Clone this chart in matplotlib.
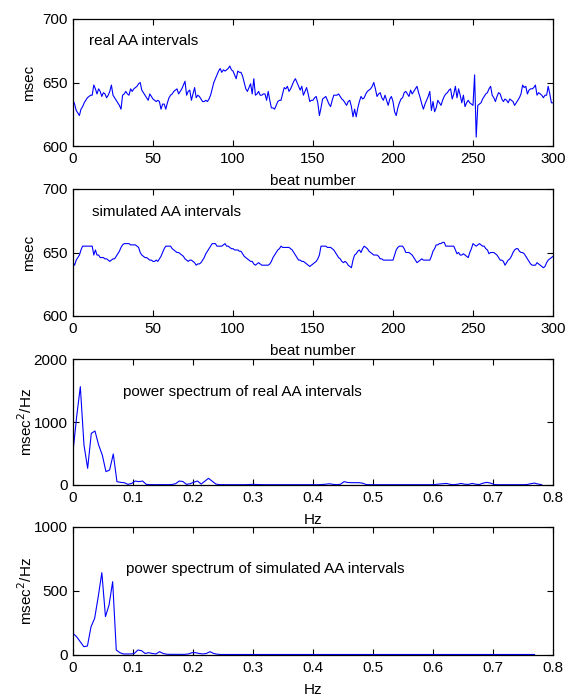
import numpy as np
import matplotlib
matplotlib.use("Agg")
import matplotlib.pyplot as plt

plt.rcParams['font.family'] = ['Liberation Sans', 'DejaVu Sans']
plt.rcParams['font.size'] = 11

# real AA intervals, beats 0..300 (msec)
real_aa = [
    636, 633, 628, 626, 624, 629, 631, 634, 636, 638,
    639, 640, 640, 648, 645, 641, 645, 643, 639, 642,
    641, 638, 640, 643, 648, 640, 638, 636, 634, 632,
    629, 640, 641, 643, 641, 640, 645, 643, 645, 646,
    647, 649, 650, 644, 642, 640, 638, 636, 641, 639,
    637, 636, 635, 636, 635, 629, 633, 633, 629, 634,
    638, 640, 641, 643, 644, 645, 641, 643, 645, 648,
    651, 640, 643, 644, 636, 641, 646, 638, 640, 639,
    637, 635, 635, 636, 635, 637, 640, 645, 650, 653,
    656, 659, 661, 658, 660, 659, 660, 661, 663, 660,
    659, 656, 653, 659, 658, 658, 655, 650, 645, 643,
    646, 649, 641, 653, 640, 641, 643, 640, 640, 641,
    641, 636, 643, 636, 630, 630, 629, 632, 635, 636,
    636, 641, 646, 645, 647, 643, 645, 648, 651, 653,
    650, 647, 644, 647, 640, 643, 646, 641, 635, 636,
    636, 638, 639, 634, 624, 630, 637, 638, 639, 636,
    633, 631, 636, 640, 640, 640, 641, 639, 637, 636,
    634, 632, 635, 636, 631, 623, 629, 623, 630, 635,
    639, 637, 638, 641, 643, 644, 645, 647, 650, 645,
    639, 641, 642, 638, 636, 640, 636, 632, 637, 639,
    635, 627, 624, 630, 634, 637, 638, 642, 643, 641,
    639, 644, 641, 643, 645, 647, 642, 638, 633, 629,
    633, 636, 639, 643, 628, 635, 627, 630, 636, 634,
    632, 636, 639, 641, 642, 644, 645, 637, 641, 647,
    638, 645, 640, 634, 640, 631, 634, 636, 634, 633,
    632, 656, 607, 632, 633, 634, 637, 639, 641, 642,
    645, 647, 640, 638, 635, 639, 642, 641, 637, 635,
    637, 636, 634, 637, 636, 635, 632, 634, 636, 638,
    641, 648, 646, 647, 641, 644, 645, 645, 646, 648,
    640, 642, 641, 640, 638, 640, 640, 647, 641, 634,
    634,
]

# simulated AA intervals, beats 0..300 (msec)
sim_aa = [
    642, 640, 644, 646, 648, 652, 655, 655, 655, 655,
    655, 655, 655, 648, 652, 648, 648, 646, 646, 646,
    645, 645, 644, 643, 644, 645, 645, 647, 649, 651,
    654, 656, 657, 657, 657, 657, 656, 656, 656, 656,
    655, 654, 650, 648, 647, 646, 646, 645, 644, 644,
    643, 643, 644, 643, 645, 647, 650, 653, 655, 655,
    655, 655, 653, 652, 651, 650, 650, 649, 648, 647,
    645, 644, 643, 644, 644, 643, 642, 640, 641, 641,
    642, 644, 646, 649, 651, 653, 655, 657, 657, 657,
    655, 655, 655, 655, 656, 657, 655, 655, 654, 653,
    653, 652, 652, 652, 651, 651, 649, 647, 646, 645,
    644, 643, 643, 641, 640, 641, 642, 641, 640, 640,
    640, 640, 640, 641, 643, 646, 648, 650, 652, 653,
    655, 654, 654, 654, 654, 654, 653, 652, 650, 648,
    646, 644, 644, 643, 643, 642, 641, 640, 639, 640,
    641, 642, 643, 645, 648, 655, 655, 655, 655, 654,
    654, 654, 653, 652, 650, 648, 646, 645, 643, 642,
    643, 642, 640, 639, 638, 644, 648, 649, 651, 652,
    650, 653, 655, 654, 653, 651, 650, 649, 648, 648,
    648, 647, 645, 645, 644, 644, 644, 644, 644, 644,
    644, 648, 652, 654, 655, 655, 655, 653, 650, 650,
    650, 649, 648, 646, 644, 642, 643, 644, 645, 644,
    644, 644, 644, 644, 647, 651, 653, 656, 656, 657,
    657, 658, 658, 655, 655, 655, 655, 655, 655, 652,
    649, 650, 648, 648, 649, 648, 647, 646, 650, 653,
    657, 656, 655, 656, 657, 656, 655, 655, 653, 652,
    649, 650, 650, 650, 649, 648, 646, 644, 644, 643,
    640, 642, 644, 645, 647, 650, 652, 653, 653, 651,
    650, 650, 649, 647, 645, 643, 641, 640, 640, 640,
    642, 641, 640, 639, 638, 639, 642, 644, 645, 646,
    647,
]

# power spectrum of real AA intervals (msec^2/Hz), 129 bins
psd_real = [
    529, 1085, 1561, 635, 265, 820, 857, 635, 476, 212,
    238, 492, 53, 42, 37, 10, 25, 63, 53, 63,
    10, 6, 5, 5, 6, 5, 5, 8, 20, 63,
    55, 10, 20, 45, 63, 15, 60, 106, 60, 15,
    6, 5, 5, 5, 6, 5, 5, 5, 8, 10,
    8, 5, 5, 5, 5, 6, 5, 5, 5, 5,
    5, 5, 5, 5, 5, 6, 5, 5, 8, 12,
    20, 10, 6, 10, 53, 40, 37, 37, 37, 30,
    8, 5, 5, 5, 5, 5, 5, 5, 5, 5,
    5, 5, 5, 5, 5, 5, 5, 5, 5, 8,
    15, 20, 25, 10, 5, 12, 25, 12, 10, 25,
    12, 8, 30, 42, 30, 8, 5, 5, 5, 5,
    5, 5, 5, 5, 8, 20, 30, 15, 5,
]

# power spectrum of simulated AA intervals (msec^2/Hz), 129 bins
psd_sim = [
    169, 143, 104, 65, 70, 221, 286, 456, 643, 300,
    391, 573, 39, 18, 8, 8, 8, 12, 39, 34,
    12, 18, 12, 8, 26, 12, 6, 5, 5, 5,
    5, 5, 8, 18, 18, 12, 8, 12, 26, 12,
    6, 4, 4, 4, 4, 4, 4, 4, 4, 4,
    4, 4, 4, 4, 4, 4, 4, 4, 4, 4,
    4, 4, 4, 4, 4, 4, 4, 4, 4, 4,
    4, 4, 4, 4, 4, 4, 4, 4, 4, 4,
    4, 4, 4, 4, 4, 4, 4, 4, 4, 4,
    4, 4, 4, 4, 4, 4, 4, 4, 4, 4,
    4, 4, 4, 4, 4, 4, 4, 4, 4, 4,
    4, 4, 4, 4, 4, 4, 4, 4, 4, 4,
    4, 4, 4, 4, 4, 4, 4, 4, 4,
]

beats = np.arange(len(real_aa))
# frequency grids: 256-point FFT at mean interval 0.64 s / 0.65 s
freq_real = np.arange(len(psd_real)) / (256 * 0.64)
freq_sim = np.arange(len(psd_sim)) / (256 * 0.65)

fig = plt.figure(figsize=(5.68, 6.96), dpi=100)
W, H = 568.0, 696.0
left, width = 73 / W, 480 / W
boxes = [(19, 146), (189, 316), (359, 485), (527, 655)]
axes = [fig.add_axes([left, 1 - b / H, width, (b - t) / H]) for t, b in boxes]

blue = (0, 0, 1)
lw = 0.8
hz_labels = ["0", "0.1", "0.2", "0.3", "0.4", "0.5", "0.6", "0.7", "0.8"]

ax = axes[0]
ax.plot(beats, real_aa, color=blue, lw=lw)
ax.set_xlim(0, 300)
ax.set_ylim(600, 700)
ax.set_yticks([600, 650, 700])
ax.set_xticks(range(0, 301, 50))
ax.set_xlabel("beat number")
ax.set_ylabel("msec")
ax.text(10, 683, "real AA intervals", va="center", ha="left")

ax = axes[1]
ax.plot(beats, sim_aa, color=blue, lw=lw)
ax.set_xlim(0, 300)
ax.set_ylim(600, 700)
ax.set_yticks([600, 650, 700])
ax.set_xticks(range(0, 301, 50))
ax.set_xlabel("beat number")
ax.set_ylabel("msec")
ax.text(12, 682, "simulated AA intervals", va="center", ha="left")

ax = axes[2]
ax.plot(freq_real, psd_real, color=blue, lw=lw)
ax.set_xlim(0, 0.8)
ax.set_ylim(0, 2000)
ax.set_yticks([0, 1000, 2000])
ax.set_xticks(np.arange(0, 0.81, 0.1))
ax.set_xticklabels(hz_labels)
ax.set_xlabel("Hz")
ax.set_ylabel("msec$^2$/Hz")
ax.text(0.083, 1480, "power spectrum of real AA intervals", va="center", ha="left")

ax = axes[3]
ax.plot(freq_sim, psd_sim, color=blue, lw=lw)
ax.set_xlim(0, 0.8)
ax.set_ylim(0, 1000)
ax.set_yticks([0, 500, 1000])
ax.set_xticks(np.arange(0, 0.81, 0.1))
ax.set_xticklabels(hz_labels)
ax.set_xlabel("Hz")
ax.set_ylabel("msec$^2$/Hz")
ax.text(0.088, 670, "power spectrum of simulated AA intervals", va="center", ha="left")

for i, ax in enumerate(axes):
    ax.tick_params(direction="in", top=True, right=True, length=4, width=0.8,
                   labelsize=11, pad=4)
    for s in ax.spines.values():
        s.set_linewidth(0.9)
    ax.xaxis.set_label_coords(0.5, -0.22)
    ax.yaxis.set_label_coords(-0.078 if i < 2 else -0.08, 0.5)

fig.savefig("out.png", dpi=100)
